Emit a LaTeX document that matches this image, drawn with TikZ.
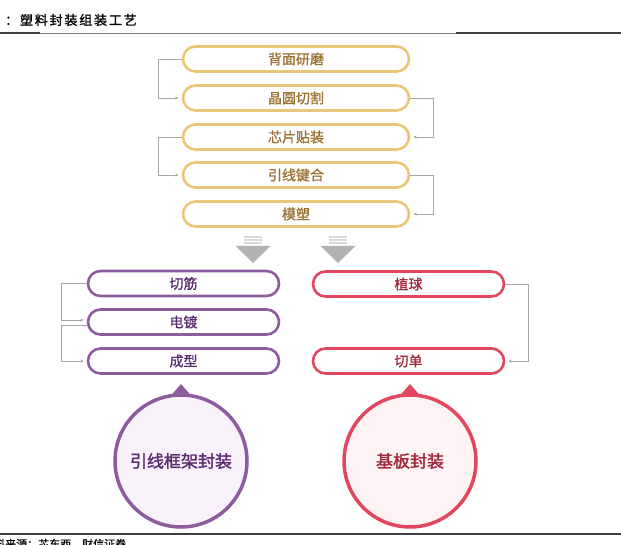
\documentclass[tikz,border=0pt]{standalone}
\usepackage{fontspec}
\newfontfamily\cjk{Noto Sans CJK SC}[FakeBold=0.6]
\newfontfamily\cjkm{Noto Sans CJK SC}[FakeBold=1.0]
\newfontfamily\cjkb{Noto Sans CJK SC}[FakeBold=1.6]
\newfontfamily\cjkt{Noto Sans CJK SC}[FakeBold=1.2,LetterSpace=14]
\usetikzlibrary{arrows.meta}
\definecolor{goldB}{HTML}{EBC679}
\definecolor{goldT}{HTML}{9A7132}
\definecolor{purB}{HTML}{8E5B9E}
\definecolor{purT}{HTML}{5B2C6F}
\definecolor{purF}{HTML}{F9F2FB}
\definecolor{redB}{HTML}{E3465F}
\definecolor{redT}{HTML}{A3283C}
\definecolor{redF}{HTML}{FDF3F5}
\definecolor{conn}{HTML}{A6A6A6}
\tikzset{
  pill/.style={draw, line width=2.6pt, rounded corners=12.5pt, minimum width=226pt, minimum height=25pt, inner sep=0pt, font=\cjkm\fontsize{14}{14}\selectfont, fill=white},
  goldpill/.style={pill, draw=goldB, text=goldT},
  purpill/.style={pill, draw=purB, text=purT, minimum width=191pt},
  redpill/.style={pill, draw=redB, text=redT, minimum width=191pt},
  link/.style={draw=conn, line width=0.8pt, -{Stealth[length=3.5pt,width=3pt]}, shorten >=3pt},
  bubble/.style={circle, line width=3.5pt, minimum size=132pt, inner sep=0pt, font=\cjkb\fontsize{17}{17}\selectfont},
}
\begin{document}
\begin{tikzpicture}[x=1pt,y=-1pt]
\useasboundingbox (0,0) rectangle (621,545);
% title
\node[anchor=west, inner sep=0pt, font=\cjkt\fontsize{13}{13}\selectfont] (title) at (5,20) {：塑料封装组装工艺};
\draw[color=black!50, line width=0.8pt] (0,33) -- (621,33);
\draw[color=black!75, line width=1.2pt] (0,33) -- (40,33);
\draw[color=black!75, line width=1.2pt] (456,33) -- (621,33);
% gold steps
\node[goldpill] (g1) at (296,59) {背面研磨};
\node[goldpill] (g2) at (296,98) {晶圆切割};
\node[goldpill] (g3) at (296,137) {芯片贴装};
\node[goldpill] (g4) at (296,175) {引线键合};
\node[goldpill] (g5) at (296,214) {模塑};
\draw[link] (g1.west) -- ++(-23,0) |- (g2.west);
\draw[link] (g2.east) -- ++(23,0) |- (g3.east);
\draw[link] (g3.west) -- ++(-23,0) |- (g4.west);
\draw[link] (g4.east) -- ++(23,0) |- (g5.east);
% down arrows
\foreach \cx/\nm in {253/da, 338/db}{
  \fill[black!15] (\cx-9,236.5) rectangle (\cx+9,238);
  \fill[black!15] (\cx-9,239.5) rectangle (\cx+9,241);
  \fill[black!15] (\cx-9,242.5) rectangle (\cx+9,244);
  \fill[black!30] (\cx-17.5,246) -- (\cx+17.5,246) -- (\cx,263) -- cycle;
}
% purple column
\node[purpill] (p1) at (183.5,283.5) {切筋};
\node[purpill] (p2) at (183.5,322) {电镀};
\node[purpill] (p3) at (183.5,361) {成型};
\draw[link] (p1.west) -- ++(-25,0) |- ([yshift=2pt]p2.west);
\draw[link] ([yshift=-3pt]p2.west) -- ++(-25,0) |- (p3.west);
% red column
\node[redpill] (r1) at (408.5,284) {植球};
\node[redpill] (r2) at (408.5,361) {切单};
\draw[link] (r1.east) -- ++(23,0) |- (r2.east);
% bubbles
\fill[purB] (181,384) -- (194,399) -- (168,399) -- cycle;
\node[bubble, draw=purB, fill=purF, text=purT] (c1) at (181,461) {引线框架封装};
\fill[redB] (410,384) -- (423,399) -- (397,399) -- cycle;
\node[bubble, draw=redB, fill=redF, text=redT] (c2) at (410,461) {基板封装};
% bottom rule and source
\draw[color=black!75, line width=1.2pt] (0,534) -- (621,534);
\node[anchor=west, inner sep=0pt, font=\cjk\fontsize{11}{11}\selectfont] (src) at (-17,544) {资料来源：芯东西，财信证券};
\end{tikzpicture}
\end{document}
